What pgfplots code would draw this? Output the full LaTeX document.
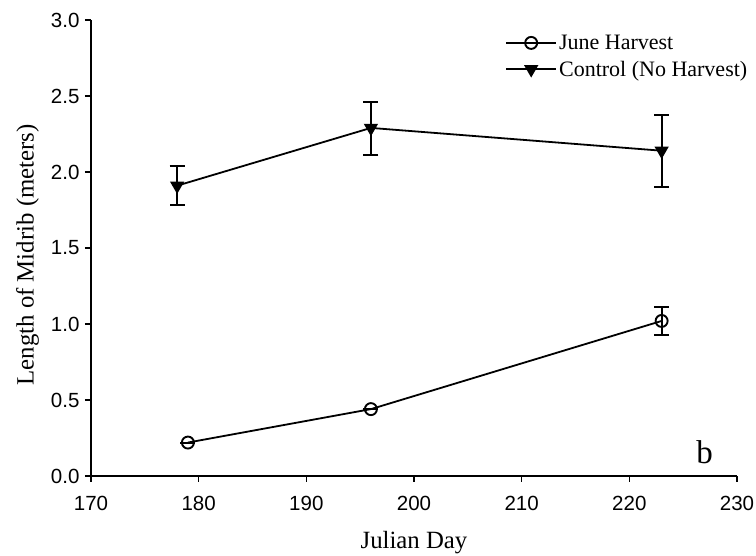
\documentclass[border=0pt]{standalone}
\usepackage{fontspec}
\setmainfont{Liberation Serif}
\newfontfamily\arial{Liberation Sans}
\usepackage{pgfplots}
\pgfplotsset{compat=1.18}

\begin{document}
\begin{tikzpicture}
\useasboundingbox (0,0) rectangle (756pt,556pt);
\begin{axis}[
    at={(91pt,80pt)}, anchor=south west,
    scale only axis,
    width=646pt, height=456pt,
    xmin=170, xmax=230, ymin=0, ymax=3,
    xtick={170,180,...,230},
    ytick={0,0.5,...,3.0},
    axis x line*=bottom, axis y line*=left,
    axis line style={line width=1.8pt},
    tick align=outside,
    major tick length=6pt,
    tick style={line width=1.6pt, black},
    /pgf/number format/assume math mode=true,
    yticklabel style={/pgf/number format/fixed, /pgf/number format/fixed zerofill,
        /pgf/number format/precision=1, xshift=-2pt},
    ticklabel style={font=\arial\fontsize{20.5}{21}\selectfont},
    xticklabel style={yshift=-11pt},
    xlabel={Julian Day},
    ylabel={Length of Midrib (meters)},
    label style={font=\fontsize{24.8}{26}\selectfont},
    xlabel style={at={(axis description cs:0.5,-0.147)}, anchor=center},
    ylabel style={at={(axis description cs:-0.098,0.485)}, anchor=center},
    legend style={
        at={(axis description cs:0.641,0.972)}, anchor=north west,
        draw=none, fill=none, inner sep=0pt, row sep=6pt,
        font=\fontsize{22}{24}\selectfont,
        /tikz/every even column/.append style={column sep=14pt}
    },
    legend cell align=left,
    legend image code/.code={
        \draw[#1, mark repeat=2, mark phase=2]
            plot coordinates {(0pt,0pt) (25pt,0pt) (50pt,0pt)};
    },
    clip=false,
]
\addplot[black, line width=1.8pt, mark=o,
    mark options={line width=1.9pt, fill=white, solid}, mark size=6pt,
    error bars/.cd, y dir=both, y explicit,
    error bar style={line width=2.2pt},
    error mark options={rotate=90, mark size=7.5pt, line width=2pt}]
coordinates {
    (179,0.22) +- (0,0)
    (196,0.44) +- (0,0)
    (223,1.02) += (0,0.09) -= (0,0.09)
};
\addlegendentry{June Harvest}

\addplot[black, line width=1.8pt, mark=triangle*,
    mark options={rotate=180, fill=black, solid}, mark size=6.5pt,
    error bars/.cd, y dir=both, y explicit,
    error bar style={line width=2.2pt},
    error mark options={rotate=90, mark size=7.5pt, line width=2pt}]
coordinates {
    (178,1.91) += (0,0.13) -= (0,0.13)
    (196,2.29) += (0,0.17) -= (0,0.18)
    (223,2.14) += (0,0.235) -= (0,0.24)
};
\addlegendentry{Control (No Harvest)}

\node[anchor=base, font=\fontsize{33}{33}\selectfont] at (axis cs:227,0.085) {b};
\end{axis}
\end{tikzpicture}
\end{document}
